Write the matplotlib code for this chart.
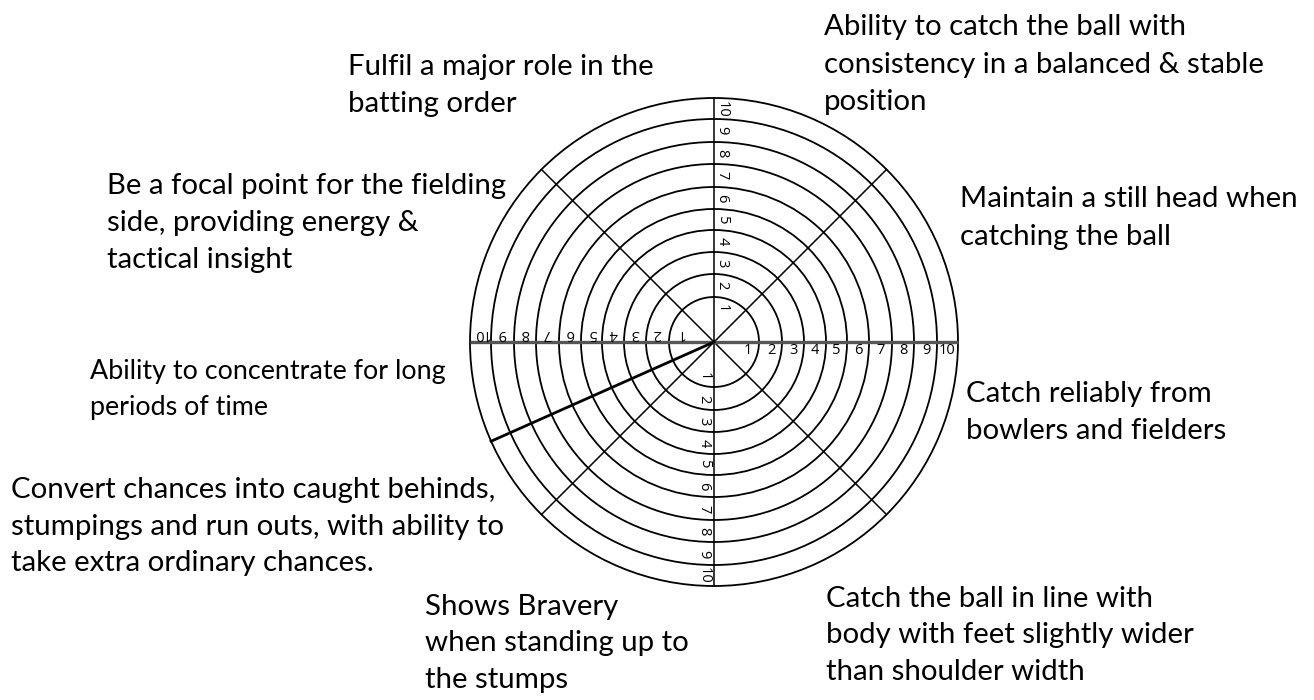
import numpy as np
import matplotlib
matplotlib.use("Agg")
import matplotlib.pyplot as plt
from matplotlib.patches import Circle

# wheel scale: score levels and the radius (px) of each ring
levels = [1, 2, 3, 4, 5, 6, 7, 8, 9, 10]
ring_radius = [45, 68, 90, 112, 133, 155, 178, 200, 223, 244]
spoke_angles = [45, 90, 135, 225, 270, 315]
marked_angle = 204  # the single drawn line, in degrees

# text blocks around the wheel
labels = [
    ["Fulfil a major role in the", "batting order"],
    ["Ability to catch the ball with", "consistency in a balanced & stable", "position"],
    ["Be a focal point for the fielding", "side, providing energy &", "tactical insight"],
    ["Maintain a still head when", "catching the ball"],
    ["Ability to concentrate for long", "periods of time"],
    ["Catch reliably from", "bowlers and fielders"],
    ["Convert chances into caught behinds,", "stumpings and run outs, with ability to",
     "take extra ordinary chances."],
    ["Shows Bravery", "when standing up to", "the stumps"],
    ["Catch the ball in line with", "body with feet slightly wider", "than shoulder width"],
]
# left x, first baseline, line step, font size
label_pos = [
    (348, 75, 37, 21.2),
    (824, 35, 37.5, 21.2),
    (107, 194, 37, 21.2),
    (960, 207, 38, 21.2),
    (90, 379, 36, 19.4),
    (966, 402, 37, 21.2),
    (11, 498, 36.5, 21.2),
    (425, 615, 36.5, 21.2),
    (826, 607, 36.5, 21.2),
]

cx, cy = 714, 342

fig = plt.figure(figsize=(13.14, 7), dpi=100)
ax = fig.add_axes([0, 0, 1, 1])
ax.set_xlim(0, 1314)
ax.set_ylim(700, 0)
ax.axis("off")

for r in ring_radius:
    ax.add_patch(Circle((cx, cy), r, fill=False, ec="black", lw=1.3))

R = ring_radius[-1]
for a in spoke_angles:
    t = np.radians(a)
    ax.plot([cx, cx + R * np.cos(t)], [cy, cy - R * np.sin(t)], color="black", lw=1.1)
# horizontal axis is drawn heavier and grey
ax.plot([cx - R, cx + R], [cy, cy], color="#555555", lw=2.4, solid_capstyle="butt")

t = np.radians(marked_angle)
ax.plot([cx, cx + R * np.cos(t)], [cy, cy - R * np.sin(t)], color="black", lw=2)

num_kw = dict(fontsize=10.5, family="Open Sans", ha="center", va="center")
for lv, r in zip(levels, ring_radius):
    d = r - 11
    ax.text(cx + d, cy + 8, str(lv), rotation=0, **num_kw)
    ax.text(cx - d, cy - 9, str(lv), rotation=180, **num_kw)
    ax.text(cx + 8, cy - d, str(lv), rotation=-90, **num_kw)
    ax.text(cx - 10, cy + d, str(lv), rotation=-90, **num_kw)

for lines, (x, y0, step, fs) in zip(labels, label_pos):
    for i, line in enumerate(lines):
        ax.text(x, y0 + i * step, line, fontsize=fs, family="Lato",
                ha="left", va="baseline", color="black")

fig.savefig("out.png", dpi=100)
